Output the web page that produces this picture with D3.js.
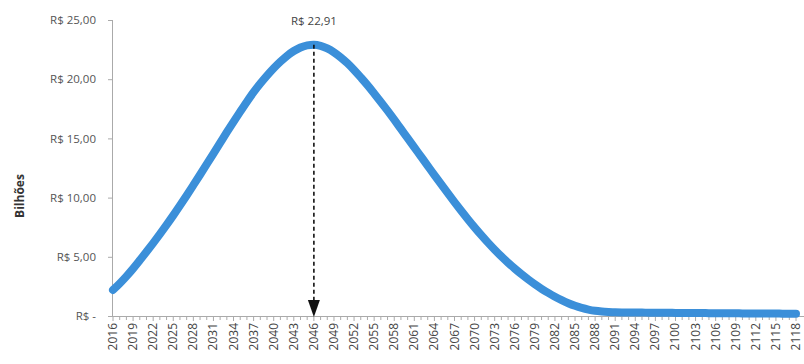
<!DOCTYPE html>
<html>
<head>
<meta charset="utf-8">
<script src="https://cdn.jsdelivr.net/npm/d3@7"></script>
<style>
  body { margin: 0; background: #fff; }
  text { font-family: "Open Sans", "DejaVu Sans", sans-serif; }
</style>
</head>
<body>
<svg id="chart" width="804" height="364"></svg>
<script>
// years 2016 .. 2118
const years = d3.range(2016, 2119);

// values in R$ bilhões
const values = [
  2.20, 2.75, 3.35, 4.00, 4.70, 5.42, 6.16, 6.92, 7.70, 8.50,
  9.33, 10.18, 11.05, 11.93, 12.82, 13.72, 14.62, 15.52, 16.4, 17.26,
  18.1, 18.9, 19.63, 20.3, 20.92, 21.48, 21.98, 22.38, 22.68, 22.86,
  22.91, 22.82, 22.6, 22.27, 21.85, 21.35, 20.78, 20.15, 19.5, 18.8,
  18.08, 17.34, 16.58, 15.8, 15.02, 14.24, 13.46, 12.68, 11.9, 11.13,
  10.37, 9.62, 8.89, 8.18, 7.49, 6.83, 6.20, 5.60, 5.03, 4.50,
  4.00, 3.53, 3.09, 2.68, 2.30, 1.95, 1.63, 1.34, 1.08, 0.86,
  0.68, 0.54, 0.44, 0.38, 0.34, 0.31, 0.30, 0.30, 0.29, 0.29,
  0.28, 0.28, 0.27, 0.27, 0.26, 0.26, 0.25, 0.25, 0.25, 0.24,
  0.24, 0.23, 0.23, 0.23, 0.22, 0.22, 0.22, 0.21, 0.21, 0.21,
  0.20, 0.20, 0.20
];

const yTicks = [0, 5, 10, 15, 20, 25];
const yTickLabels = ["R$ -", "R$ 5,00", "R$ 10,00", "R$ 15,00", "R$ 20,00", "R$ 25,00"];

const peakYear = 2046;
const peakLabel = "R$ 22,91";

const data = years.map((y, i) => ({ year: y, v: values[i] }));

const svg = d3.select("#chart");

const x = d3.scalePoint()
  .domain(years)
  .range([113, 796]);

const y = d3.scaleLinear()
  .domain([0, 25])
  .range([316, 20]);

// y axis
const yAxis = d3.axisLeft(y)
  .tickValues(yTicks)
  .tickFormat((d, i) => yTickLabels[i])
  .tickSize(5)
  .tickPadding(12);

const gy = svg.append("g")
  .attr("transform", `translate(113,0)`)
  .call(yAxis);
gy.select(".domain").attr("stroke", "#aaa").attr("d", "M-0.5,20V316");
gy.selectAll(".tick line").attr("stroke", "#aaa");
gy.selectAll(".tick text").attr("fill", "#555").style("font-size", "11.5px");

// x axis line + yearly ticks
const gx = svg.append("g");
gx.append("line")
  .attr("x1", 113).attr("x2", 804)
  .attr("y1", 316.5).attr("y2", 316.5)
  .attr("stroke", "#aaa");
gx.selectAll("line.tk")
  .data(years)
  .join("line")
  .attr("class", "tk")
  .attr("x1", d => x(d)).attr("x2", d => x(d))
  .attr("y1", 316.5).attr("y2", d => (d - 2016) % 3 === 0 ? 321 : 320)
  .attr("stroke", "#aaa");
gx.selectAll("text")
  .data(years.filter(d => (d - 2016) % 3 === 0))
  .join("text")
  .attr("transform", d => `translate(${x(d) + 4},323) rotate(-90)`)
  .attr("text-anchor", "end")
  .attr("fill", "#444")
  .style("font-size", "12px")
  .text(d => d);

// y title
svg.append("text")
  .attr("transform", "translate(24,196) rotate(-90)")
  .attr("text-anchor", "middle")
  .attr("fill", "#333")
  .style("font-size", "12px")
  .style("font-weight", "bold")
  .text("Bilhões");

// the curve
svg.append("path")
  .datum(data)
  .attr("fill", "none")
  .attr("stroke", "#3b8fd9")
  .attr("stroke-width", 8)
  .attr("stroke-linecap", "round")
  .attr("stroke-linejoin", "round")
  .attr("d", d3.line().x(d => x(d.year)).y(d => y(d.v)).curve(d3.curveMonotoneX));

// peak annotation
const peak = data.find(d => d.year === peakYear);
const px = x(peakYear);
svg.append("line")
  .attr("x1", px).attr("x2", px)
  .attr("y1", y(peak.v)).attr("y2", 302)
  .attr("stroke", "#111")
  .attr("stroke-width", 1.6)
  .attr("stroke-dasharray", "4,3");
svg.append("path")
  .attr("d", `M${px - 6},300L${px + 6},300L${px},317Z`)
  .attr("fill", "#111");
svg.append("text")
  .attr("x", px).attr("y", 25)
  .attr("text-anchor", "middle")
  .attr("fill", "#444")
  .style("font-size", "11.5px")
  .text(peakLabel);
</script>
</body>
</html>
